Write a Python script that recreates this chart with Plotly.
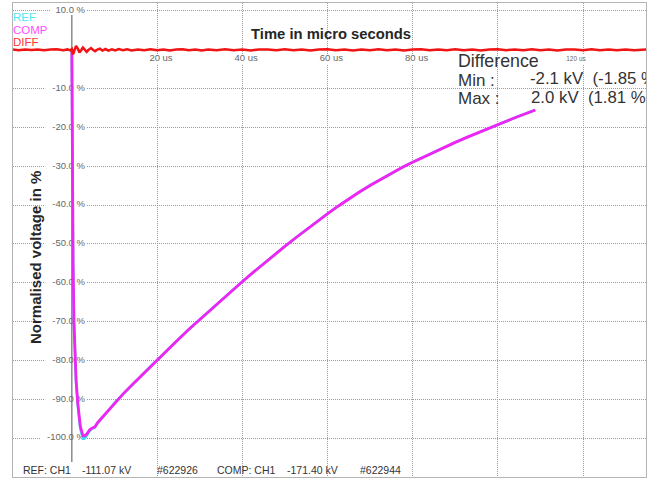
import plotly.graph_objects as go

# ---------------- data ----------------
t_us = [0, 0.05, 0.15, 0.3, 0.5, 0.75, 1.0, 1.4, 2.0, 2.6, 3.0, 3.5, 4.2, 4.8, 5.4, 6.1, 7.0,
        8.0, 9.0, 10.1, 12.0, 14.0, 16.0, 18.0, 20.0, 22.5, 25.0, 27.5, 30.0, 32.5, 35.0, 37.5,
        40.0, 42.5, 45.0, 47.5, 50.0, 52.5, 55.0, 57.5, 60.0, 62.5, 65.0, 67.5, 70.0, 72.5,
        75.0, 77.5, 80.0, 83.0, 86.0, 90.0, 93.0, 96.0, 100.0, 104.0, 108.8]
comp_pct = [0, -15, -35, -55, -70, -80, -85, -91, -97, -99.4, -99.5, -99.0, -97.9, -97.4, -97.2,
            -96.0, -94.9, -93.7, -92.4, -90.9, -88.7, -86.5, -84.3, -82.1, -79.9, -77.2, -74.6,
            -72.0, -69.5, -67.0, -64.55, -62.15, -59.75, -57.4, -55.1, -52.87, -50.65, -48.48,
            -46.35, -44.28, -42.25, -40.29, -38.42, -36.64, -34.95, -33.34, -31.8, -30.34,
            -28.95, -27.36, -25.82, -23.85, -22.43, -21.04, -19.25, -17.51, -15.5]
ref_pct = [0, -15, -35, -55, -70, -80, -85.5, -91.5, -97.6, -100.1, -100.1, -99.4, -98.1, -97.6,
           -97.3, -96.1, -95.0, -93.7, -92.4, -90.9, -88.7, -86.5, -84.3, -82.1, -79.9, -77.2,
           -74.6, -72.0, -69.5, -67.0, -64.55, -62.15, -59.75, -57.4, -55.1, -52.87, -50.65,
           -48.48, -46.35, -44.28, -42.25, -40.29, -38.42, -36.64, -34.95, -33.34, -31.8,
           -30.34, -28.95, -27.36, -25.82, -23.85, -22.43, -21.04, -19.25, -17.51, -15.5]

diff_t_us = [-13.8, -12.5, -11, -9.5, -8, -6.5, -5, -3.5, -2, -1, -0.4, 0, 0.3, 0.6, 1.0, 1.4,
             1.8, 2.2, 2.6, 3.0, 3.5, 4.0, 4.5, 5.0, 5.5, 6.0, 6.6, 7.2, 7.9, 8.6, 9.4, 10.2, 11,
             12, 13, 14, 15.5, 17, 18.5, 20, 21.5, 23, 24.5, 26, 27.5, 29, 30.5, 32, 34, 36, 38,
             40, 42, 44, 46, 48, 50, 52, 54, 56, 58, 60, 62, 64, 66, 68, 70, 72, 74, 76, 78, 80,
             82, 84, 86, 88, 90, 92, 94, 96, 98, 100, 102, 104, 106, 108, 110, 112, 114, 116,
             118, 120, 122, 124, 126, 128, 130, 132, 134.8]
diff_pct = [0.05, -0.1, 0.1, -0.05, 0.1, -0.1, 0.05, 0.15, -0.1, 0.1, -0.15, 0.2, -1.2, -0.4,
            1.0, 0.3, -0.7, -0.1, 0.6, 0.1, -0.55, 0.05, 0.45, -0.05, -0.35, 0.05, 0.3, -0.2,
            0.2, -0.2, 0.15, -0.15, 0.2, -0.1, 0.15, -0.15, 0.1, -0.1, 0.15, -0.1, 0.1, -0.15,
            0.1, 0.15, -0.1, 0.1, -0.15, 0.1, -0.1, 0.15, -0.1, 0.1, -0.15, 0.1, 0.1, -0.1,
            0.15, -0.1, 0.1, -0.15, 0.1, 0.15, -0.1, 0.1, -0.15, 0.1, -0.1, 0.15, -0.1, 0.1,
            -0.15, 0.1, 0.15, -0.1, 0.1, -0.1, 0.15, -0.1, 0.1, -0.15, 0.1, 0.15, -0.1, 0.1,
            -0.1, 0.15, -0.1, 0.1, -0.15, 0.1, 0.1, -0.1, 0.15, -0.1, 0.1, -0.1, 0.1, -0.1,
            0.05]

y_tick_vals = [10, -10, -20, -30, -40, -50, -60, -70, -80, -90, -100]
y_tick_labels = ["10.0 %", "-10.0 %", "-20.0 %", "-30.0 %", "-40.0 %", "-50.0 %",
                 "-60.0 %", "-70.0 %", "-80.0 %", "-90.0 %", "-100.0 %"]
x_tick_vals = [20, 40, 60, 80, 100, 120]
x_tick_labels = ["20 us", "40 us", "60 us", "80 us", "", "120 us"]

# ---------------- geometry helpers (pixel <-> data) ----------------
W, H = 656, 479
L, R, T, B = 13, 646, 3, 477
X0, XS = 71.8, 4.26      # px of t=0, px per us
Y0, YS = 49.8, 3.882     # px of 0 %, px per %

def tx(px):
    return (px - X0) / XS

def vy(py):
    return (Y0 - py) / YS

def pxp(px):
    return (px - L) / (R - L)

def pyp(py):
    return (B - py) / (B - T)

FONT = "Liberation Sans, Arial, sans-serif"
GRID = "#9c9c9c"
TICK_COLOR = "#676767"

fig = go.Figure()

# white masks behind tick labels (between gridlines and traces)
shapes = []
for v, lab in zip(y_tick_vals, y_tick_labels):
    w = len(lab) * 4.9
    py = Y0 - v * YS
    shapes.append(dict(type="rect", layer="between", xref="x", yref="y",
                       x0=tx(84.5 - w - 5), x1=tx(86), y0=vy(py + 5), y1=vy(py - 5),
                       fillcolor="white", line=dict(width=0)))
for v, lab in zip(x_tick_vals, x_tick_labels):
    if not lab:
        continue
    cx = X0 + v * XS + (4 if lab != "120 us" else -7)
    w = len(lab) * (4.6 if lab != "120 us" else 2.5)
    shapes.append(dict(type="rect", layer="between", xref="x", yref="y",
                       x0=tx(cx - w / 2 - 1), x1=tx(cx + w / 2 + 1), y0=vy(64), y1=vy(54),
                       fillcolor="white", line=dict(width=0)))
# solid time-zero axis
shapes.append(dict(type="line", layer="between", xref="x", yref="y",
                   x0=0, x1=0, y0=vy(15), y1=vy(462),
                   line=dict(color="#8c8c8c", width=1.5)))

# tick labels as text traces (under the curves)
fig.add_trace(go.Scatter(x=[tx(85)] * len(y_tick_vals), y=y_tick_vals, mode="text",
                         text=y_tick_labels, textposition="middle left",
                         textfont=dict(family=FONT, size=9.5, color=TICK_COLOR),
                         hoverinfo="skip", showlegend=False))
main_x = [v + 4 / XS for v, lab in zip(x_tick_vals, x_tick_labels) if lab and lab != "120 us"]
main_l = [lab for lab in x_tick_labels if lab and lab != "120 us"]
fig.add_trace(go.Scatter(x=main_x, y=[vy(59)] * len(main_x), mode="text", text=main_l,
                         textposition="middle center",
                         textfont=dict(family=FONT, size=9.5, color=TICK_COLOR),
                         hoverinfo="skip", showlegend=False))
fig.add_trace(go.Scatter(x=[x_tick_vals[-1] - 7 / XS], y=[vy(59)], mode="text",
                         text=[x_tick_labels[-1]], textposition="middle center",
                         textfont=dict(family=FONT, size=6.5, color=TICK_COLOR),
                         hoverinfo="skip", showlegend=False))

# curves
fig.add_trace(go.Scatter(x=t_us, y=ref_pct, mode="lines", name="REF",
                         line=dict(color="#35dcef", width=2.6), showlegend=False))
fig.add_trace(go.Scatter(x=t_us, y=comp_pct, mode="lines", name="COMP",
                         line=dict(color="#f024f4", width=2.8), showlegend=False))
fig.add_trace(go.Scatter(x=diff_t_us, y=diff_pct, mode="lines", name="DIFF",
                         line=dict(color="#f01414", width=2.5), showlegend=False))

# clipped Difference values
fig.add_trace(go.Scatter(x=[tx(530), tx(531)], y=[vy(80), vy(99)], mode="text",
                         text=["-2.1 kV  (-1.85 %)", "2.0 kV  (1.81 %)"],
                         textposition="middle right", cliponaxis=True,
                         textfont=dict(family=FONT, size=16.8, color="#333333"),
                         hoverinfo="skip", showlegend=False))

ann = []
def add_text(px, py, text, size, color, xanchor="left", bold=False, angle=0):
    if bold:
        text = "<b>" + text + "</b>"
    ann.append(dict(x=pxp(px), y=pyp(py), xref="paper", yref="paper", text=text,
                    showarrow=False, xanchor=xanchor, yanchor="middle", textangle=angle,
                    font=dict(family=FONT, size=size, color=color), borderpad=0))

add_text(331, 34, "Time in micro seconds", 14.8, "#262626", xanchor="center", bold=True)
add_text(35, 258, "Normalised voltage in %", 15, "#262626", xanchor="center", bold=True, angle=-90)
add_text(12, 17, "REF", 11.5, "#4ee6f4")
add_text(12, 29.5, "COMP", 11.5, "#ff50ff")
add_text(12, 42, "DIFF", 11.5, "#ff3535")
add_text(457, 61, "Difference", 17.8, "#333333")
add_text(457, 80, "Min :", 17, "#333333")
add_text(457, 99, "Max :", 17, "#333333")
add_text(22, 470, "REF: CH1", 10.5, "#333333")
add_text(81, 470, "-111.07 kV", 10.5, "#333333")
add_text(156, 470, "#622926", 10.5, "#333333")
add_text(216, 470, "COMP: CH1", 10.5, "#333333")
add_text(286, 470, "-171.40 kV", 10.5, "#333333")
add_text(359, 470, "#622944", 10.5, "#333333")

axis_common = dict(showgrid=True, gridcolor=GRID, gridwidth=1, griddash="1px,1px",
                   zeroline=False, showticklabels=False, ticks="",
                   showline=True, mirror=True, linecolor="#b4b4b4", linewidth=1)

fig.update_layout(
    width=W, height=H,
    margin=dict(l=L, r=W - R, t=T, b=H - B, pad=0),
    paper_bgcolor="white", plot_bgcolor="white",
    xaxis=dict(range=[tx(L), tx(R)], tickvals=x_tick_vals, **axis_common),
    yaxis=dict(range=[vy(B), vy(T)], tickvals=y_tick_vals + [0], **axis_common),
    shapes=shapes, annotations=ann, showlegend=False,
)

fig.write_html("out.html", config={"displayModeBar": False},
               post_script="document.body.style.margin='0';document.body.style.padding='0';"
                           "document.documentElement.style.overflow='hidden';")
